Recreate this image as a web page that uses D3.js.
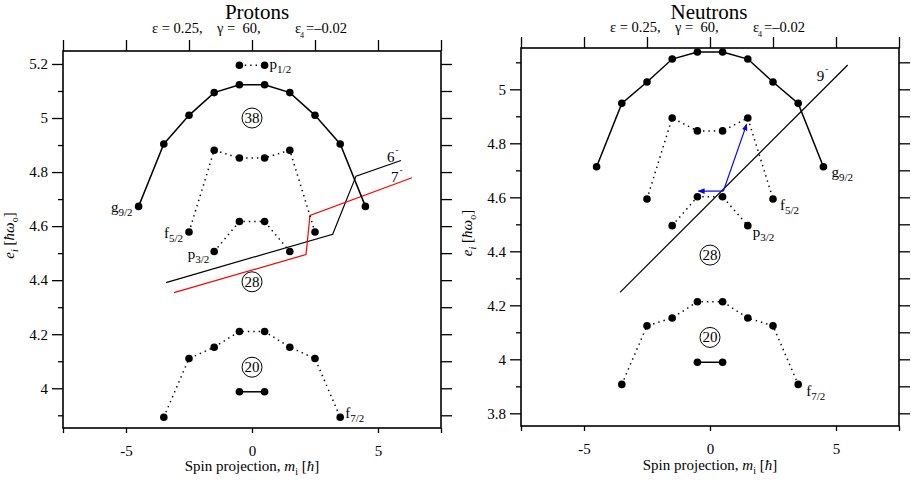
<!DOCTYPE html>
<html>
<head>
<meta charset="utf-8">
<script src="https://cdn.jsdelivr.net/npm/d3@7"></script>
</head>
<body style="margin:0">
<svg id="chart" width="911" height="484" font-family="Liberation Serif"></svg>
<script>
// Spin projections of each j-shell
const mG92 = [-4.5, -3.5, -2.5, -1.5, -0.5, 0.5, 1.5, 2.5, 3.5, 4.5];
const mF72 = [-3.5, -2.5, -1.5, -0.5, 0.5, 1.5, 2.5, 3.5];
const mF52 = [-2.5, -1.5, -0.5, 0.5, 1.5, 2.5];
const mP32 = [-1.5, -0.5, 0.5, 1.5];
const mHalf = [-0.5, 0.5];

// Proton single-particle energies e_i [ħω0]
const protonG92 = [4.673, 4.904, 5.010, 5.094, 5.123, 5.123, 5.094, 5.010, 4.904, 4.673];
const protonP12 = [5.195, 5.195];
const protonF52 = [4.578, 4.881, 4.852, 4.852, 4.881, 4.578];
const protonP32 = [4.506, 4.617, 4.617, 4.506];
const protonF72 = [3.893, 4.110, 4.152, 4.210, 4.210, 4.152, 4.110, 3.893];
const protonD32 = [3.987, 3.987];

// Neutron single-particle energies e_i [ħω0]
const neutronG92 = [4.713, 4.948, 5.027, 5.112, 5.138, 5.138, 5.112, 5.027, 4.948, 4.713];
const neutronF52 = [4.594, 4.894, 4.846, 4.846, 4.894, 4.594];
const neutronP32 = [4.495, 4.602, 4.602, 4.495];
const neutronF72 = [3.907, 4.124, 4.153, 4.213, 4.213, 4.153, 4.124, 3.907];
const neutronD32 = [3.989, 3.989];

// Shell gaps (magic numbers) at m = 0
const protonGaps = [38, 28, 20];
const protonGapEnergy = [5.0, 4.394, 4.078];
const neutronGaps = [28, 20];
const neutronGapEnergy = [4.386, 4.081];

// Fermi-level lines of the tilted configurations [m, e]
const proton6Line = [[-3.413, 4.391], [3.202, 4.570], [4.127, 4.785], [5.913, 4.843]];
const proton7Line = [[-3.095, 4.354], [2.143, 4.495], [2.302, 4.640], [6.349, 4.779]];
const neutron9Line = [[-3.571, 4.248], [5.464, 5.090]];

// Particle-hole excitation arrows (neutrons)
const arrowFrom = [0.53, 4.623];
const arrowTo = [[1.456, 4.871], [-0.464, 4.623]];

// Axis ticks
const xLabelTicks = [-5, 0, 5];
const xBottomTicks = [-7.5, -5, 0, 5, 7.5];
const xTopTicks = [-7.5, -5, -2.5, 0, 2.5, 5, 7.5];
const protonYMajor = [4, 4.2, 4.4, 4.6, 4.8, 5, 5.2];
const neutronYMajor = [3.8, 4, 4.2, 4.4, 4.6, 4.8, 5];
const yMinor = [3.9, 4.1, 4.3, 4.5, 4.7, 4.9, 5.1];

const FONT = "Liberation Serif";
const chart = d3.select("#chart");

function addText(g, x, y, size) {
  return g.append("text")
    .attr("x", x).attr("y", y)
    .attr("font-family", FONT)
    .attr("font-size", size)
    .attr("fill", "#000");
}

function subLabel(g, x, y, main, sub, anchor) {
  const t = addText(g, x, y, 15).attr("text-anchor", anchor);
  t.append("tspan").text(main);
  t.append("tspan").attr("dy", 4).attr("font-size", 11).text(sub);
  return t;
}

function supLabel(g, x, y, main) {
  const t = addText(g, x, y, 15);
  t.append("tspan").text(main);
  t.append("tspan").attr("dy", -9).attr("dx", 1).attr("font-size", 9).text("-");
  return t;
}

function drawPanel(p) {
  const g = chart.append("g");
  const x = d3.scaleLinear().domain([-7.5, 7.5]).range([p.left, p.right]);
  const y = d3.scaleLinear().domain(p.yDomain).range([p.bottom, p.top]);
  const cx = x(0);

  // title and deformation parameters
  addText(g, p.titleX, p.titleY, 21).attr("text-anchor", "middle").text(p.title);
  const sy = p.subY;
  addText(g, cx - 100, sy, 14.5).text("ε = 0.25,");
  addText(g, cx - 35, sy, 14.5).attr("xml:space", "preserve").text("γ =  60,");
  const e4 = addText(g, cx + 43, sy, 14.5);
  e4.append("tspan").text("ε");
  e4.append("tspan").attr("dx", -1).attr("dy", 5).attr("font-size", 8).text("4");
  e4.append("tspan").attr("dx", 2).attr("dy", -5).text("=–0.02");

  // axes
  const axisLeft = g.append("g").attr("transform", `translate(${p.left},0)`)
    .call(d3.axisLeft(y).tickValues(p.yMajor).tickSize(11).tickPadding(4).tickFormat(d => String(d)));
  const axisLeftMinor = g.append("g").attr("transform", `translate(${p.left},0)`)
    .call(d3.axisLeft(y).tickValues(yMinor).tickSize(5).tickFormat(""));
  const axisRight = g.append("g").attr("transform", `translate(${p.right},0)`)
    .call(d3.axisRight(y).tickValues(p.yMajor.concat(yMinor)).tickSize(11).tickFormat(""));
  const axisTop = g.append("g").attr("transform", `translate(0,${p.top})`)
    .call(d3.axisTop(x).tickValues(xTopTicks).tickSize(11).tickFormat(""));
  const axisBottom = g.append("g").attr("transform", `translate(0,${p.bottom})`)
    .call(d3.axisBottom(x).tickValues(xBottomTicks).tickSize(5).tickPadding(12)
      .tickFormat(d => xLabelTicks.includes(d) ? (d < 0 ? "-" + Math.abs(d) : String(d)) : ""));
  [axisLeft, axisLeftMinor, axisRight, axisTop, axisBottom].forEach(a => {
    a.attr("font-family", FONT).attr("font-size", 15);
    a.select(".domain").remove();
    a.selectAll("line").attr("stroke", "#000").attr("stroke-width", 1.3);
    a.selectAll("text").attr("font-family", FONT).attr("font-size", 15).attr("fill", "#000");
  });

  g.append("rect").attr("x", p.left).attr("y", p.top)
    .attr("width", p.right - p.left).attr("height", p.bottom - p.top)
    .attr("fill", "none").attr("stroke", "#000").attr("stroke-width", 1.6);

  // axis titles
  const xl = addText(g, cx, p.xLabelY, 15).attr("text-anchor", "middle");
  xl.append("tspan").text("Spin projection, ");
  xl.append("tspan").attr("font-style", "italic").text("m");
  xl.append("tspan").attr("dy", 4).attr("font-size", 10).text("i");
  xl.append("tspan").attr("dy", -4).text(" [");
  xl.append("tspan").attr("font-style", "italic").text("ħ");
  xl.append("tspan").text("]");

  const yl = addText(g, 0, 0, 15)
    .attr("transform", `translate(${p.left - 49},${(p.top + p.bottom) / 2 - 4}) rotate(-90)`)
    .attr("text-anchor", "middle");
  yl.append("tspan").attr("font-style", "italic").text("e");
  yl.append("tspan").attr("dy", 4).attr("font-size", 10).attr("font-style", "italic").text("i");
  yl.append("tspan").attr("dy", -4).text(" [");
  yl.append("tspan").attr("font-style", "italic").text("ħω");
  yl.append("tspan").attr("dy", 4).attr("font-size", 10).text("o");
  yl.append("tspan").attr("dy", -4).text("]");

  const line = d3.line().x(d => x(d[0])).y(d => y(d[1]));

  // tilted Fermi-level lines
  p.configLines.forEach(c => {
    g.append("path").attr("d", line(c.pts)).attr("fill", "none")
      .attr("stroke", c.color).attr("stroke-width", 1.2);
  });

  // single-particle levels
  p.levels.forEach(lv => {
    const pts = lv.m.map((m, i) => [m, lv.e[i]]);
    g.append("path").attr("d", line(pts)).attr("fill", "none")
      .attr("stroke", "#000").attr("stroke-width", 1.5)
      .attr("stroke-dasharray", lv.dotted ? "1.4,4" : null);
    g.selectAll(null).data(pts).enter().append("circle")
      .attr("cx", d => x(d[0])).attr("cy", d => y(d[1])).attr("r", 3.8).attr("fill", "#000");
    if (lv.label) {
      const end = lv.label.at === "first" ? pts[0] : pts[pts.length - 1];
      subLabel(g, x(end[0]) + lv.label.dx, y(end[1]) + lv.label.dy, lv.label.main, lv.label.sub,
        lv.label.dx < 0 ? "end" : "start");
    }
  });

  // shell-gap numbers
  p.gaps.forEach((n, i) => {
    const gx = x(0), gy = y(p.gapE[i]);
    g.append("circle").attr("cx", gx).attr("cy", gy).attr("r", 10)
      .attr("fill", "none").attr("stroke", "#000").attr("stroke-width", 1);
    addText(g, gx, gy + 5, 15).attr("text-anchor", "middle").text(n);
  });

  // configuration labels
  p.configLines.forEach(c => {
    const end = c.pts[c.pts.length - 1];
    supLabel(g, x(end[0]) + c.dx, y(end[1]) + c.dy, c.label);
  });

  if (p.arrows) {
    const defs = chart.append("defs");
    defs.append("marker").attr("id", "bluehead").attr("viewBox", "0 0 10 10")
      .attr("refX", 9).attr("refY", 5).attr("markerWidth", 7).attr("markerHeight", 7)
      .attr("orient", "auto").attr("markerUnits", "userSpaceOnUse")
      .append("path").attr("d", "M0,1 L10,5 L0,9 Z").attr("fill", "#0000ff");
    p.arrows.to.forEach(t => {
      g.append("line")
        .attr("x1", x(p.arrows.from[0])).attr("y1", y(p.arrows.from[1]))
        .attr("x2", x(t[0])).attr("y2", y(t[1]))
        .attr("stroke", "#0000ff").attr("stroke-width", 1.2)
        .attr("marker-end", "url(#bluehead)");
    });
  }
}

drawPanel({
  title: "Protons", titleX: 257, titleY: 19, subY: 33,
  left: 63, right: 441, top: 51, bottom: 428, xLabelY: 471,
  yDomain: [3.853, 5.248], yMajor: protonYMajor,
  levels: [
    { m: mG92, e: protonG92, dotted: false, label: { at: "first", main: "g", sub: "9/2", dx: -6, dy: 6 } },
    { m: mHalf, e: protonP12, dotted: true, label: { at: "last", main: "p", sub: "1/2", dx: 5, dy: 4 } },
    { m: mF52, e: protonF52, dotted: true, label: { at: "first", main: "f", sub: "5/2", dx: -6, dy: 6 } },
    { m: mP32, e: protonP32, dotted: true, label: { at: "first", main: "p", sub: "3/2", dx: -5, dy: 7 } },
    { m: mF72, e: protonF72, dotted: true, label: { at: "last", main: "f", sub: "7/2", dx: 5, dy: 1 } },
    { m: mHalf, e: protonD32, dotted: false }
  ],
  gaps: protonGaps, gapE: protonGapEnergy,
  configLines: [
    { pts: proton6Line, color: "#000", label: "6", dx: -14, dy: 2 },
    { pts: proton7Line, color: "#ff0000", label: "7", dx: -21, dy: 4 }
  ]
});

drawPanel({
  title: "Neutrons", titleX: 709, titleY: 18.7, subY: 32,
  left: 521, right: 899, top: 48, bottom: 426, xLabelY: 470,
  yDomain: [3.753, 5.153], yMajor: neutronYMajor,
  levels: [
    { m: mG92, e: neutronG92, dotted: false, label: { at: "last", main: "g", sub: "9/2", dx: 8, dy: 10 } },
    { m: mF52, e: neutronF52, dotted: true, label: { at: "last", main: "f", sub: "5/2", dx: 7, dy: 11 } },
    { m: mP32, e: neutronP32, dotted: true, label: { at: "last", main: "p", sub: "3/2", dx: 5, dy: 11 } },
    { m: mF72, e: neutronF72, dotted: true, label: { at: "last", main: "f", sub: "7/2", dx: 8, dy: 12 } },
    { m: mHalf, e: neutronD32, dotted: false }
  ],
  gaps: neutronGaps, gapE: neutronGapEnergy,
  configLines: [
    { pts: neutron9Line, color: "#000", label: "9", dx: -31, dy: 16 }
  ],
  arrows: { from: arrowFrom, to: arrowTo }
});
</script>
</body>
</html>
